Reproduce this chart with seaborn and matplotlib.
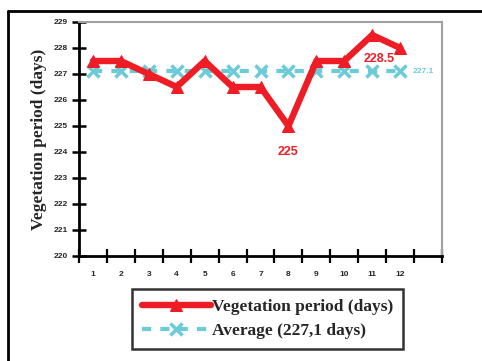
import matplotlib
matplotlib.use("Agg")
import matplotlib.pyplot as plt
from matplotlib.lines import Line2D
from matplotlib.ticker import FixedLocator
import seaborn as sns
import pandas as pd

# Data
years = [1, 2, 3, 4, 5, 6, 7, 8, 9, 10, 11, 12]
vegetation_days = [227.5, 227.5, 227.0, 226.5, 227.5, 226.5, 226.5, 225.0, 227.5, 227.5, 228.5, 228.0]
average_days = [227.1] * 12
y_ticks = [220, 221, 222, 223, 224, 225, 226, 227, 228, 229]

RED = "#ee1c25"
BLUE = "#6ccbd8"

sns.set_style("white", {"xtick.bottom": True, "ytick.left": True})
df = pd.DataFrame({"year": years, "veg": vegetation_days, "avg": average_days})

fig = plt.figure(figsize=(4.82, 3.61), dpi=100)
ax = fig.add_axes([79 / 482, 1 - 256 / 361, (442 - 79) / 482, (256 - 22) / 361])

sns.lineplot(data=df, x="year", y="veg", ax=ax, color=RED, linewidth=4.6,
             marker="^", markersize=8, markeredgecolor=RED,
             label="Vegetation period (days)", zorder=3)
sns.lineplot(data=df, x="year", y="avg", ax=ax, color=BLUE, linewidth=3,
             dashes=False, linestyle=(0, (2.2, 2.2)),
             marker="x", markersize=8, markeredgewidth=2.5, markeredgecolor=BLUE,
             label="Average (227,1 days)", zorder=2)

ax.set_xlim(0.5, 13.5)
ax.set_ylim(220, 229)

# Category boundaries carry the ticks, category centres carry the labels
ax.xaxis.set_major_locator(FixedLocator([i + 0.5 for i in range(0, 14)]))
ax.xaxis.set_minor_locator(FixedLocator(years))
ax.set_xticklabels([])
ax.set_xticklabels([str(y) for y in years], minor=True)
ax.tick_params(axis="x", which="major", bottom=True, direction="inout", length=10,
               width=1.6, color="black")
ax.tick_params(axis="x", which="minor", bottom=True, length=0, pad=11, labelsize=6)
for lab in ax.get_xticklabels(minor=True):
    lab.set_fontweight("bold")
    lab.set_family("Liberation Sans")

ax.set_yticks(y_ticks)
ax.set_yticklabels([str(v) for v in y_ticks], fontsize=6, fontweight="bold", family="Liberation Sans")
ax.tick_params(axis="y", which="major", left=True, direction="inout", length=10,
               width=1.8, color="black", pad=3)

ax.set_xlabel("")
ax.set_ylabel("Vegetation period (days)", fontsize=12.5, fontweight="bold",
              family="Liberation Serif", labelpad=5)

for side in ("left", "bottom"):
    ax.spines[side].set_color("black")
    ax.spines[side].set_linewidth(2)
for side in ("top", "right"):
    ax.spines[side].set_visible(True)
    ax.spines[side].set_color("#a0a0a0")
    ax.spines[side].set_linewidth(1.5)

# Value labels
ax.text(8, 224.0, "225", color=RED, fontsize=9, fontweight="bold",
        family="Liberation Sans", ha="center", va="center")
ax.text(11.25, 227.58, "228.5", color=RED, fontsize=9, fontweight="bold",
        family="Liberation Sans", ha="center", va="center")
ax.text(12.45, 227.1, "227.1", color=BLUE, fontsize=6, fontweight="bold",
        family="Liberation Sans", ha="left", va="center")

handles, labels = ax.get_legend_handles_labels()
ax.get_legend().remove()
leg = fig.legend(handles, labels, loc="center", bbox_to_anchor=(267.5 / 482, 1 - 319 / 361),
                 frameon=True, fancybox=False, handlelength=4.0, handletextpad=0.05,
                 borderpad=0.55, borderaxespad=0, labelspacing=0.5,
                 prop={"family": "Liberation Serif", "weight": "bold", "size": 12.5})
leg.get_frame().set_edgecolor("black")
leg.get_frame().set_linewidth(1.8)

# Outer frame
fig.add_artist(Line2D([8 / 482, 1.0], [1 - 11 / 361, 1 - 11 / 361], color="black",
                      linewidth=2, transform=fig.transFigure))
fig.add_artist(Line2D([8 / 482, 8 / 482], [0.0, 1 - 11 / 361], color="black",
                      linewidth=2, transform=fig.transFigure))

fig.savefig("out.png", dpi=100)
